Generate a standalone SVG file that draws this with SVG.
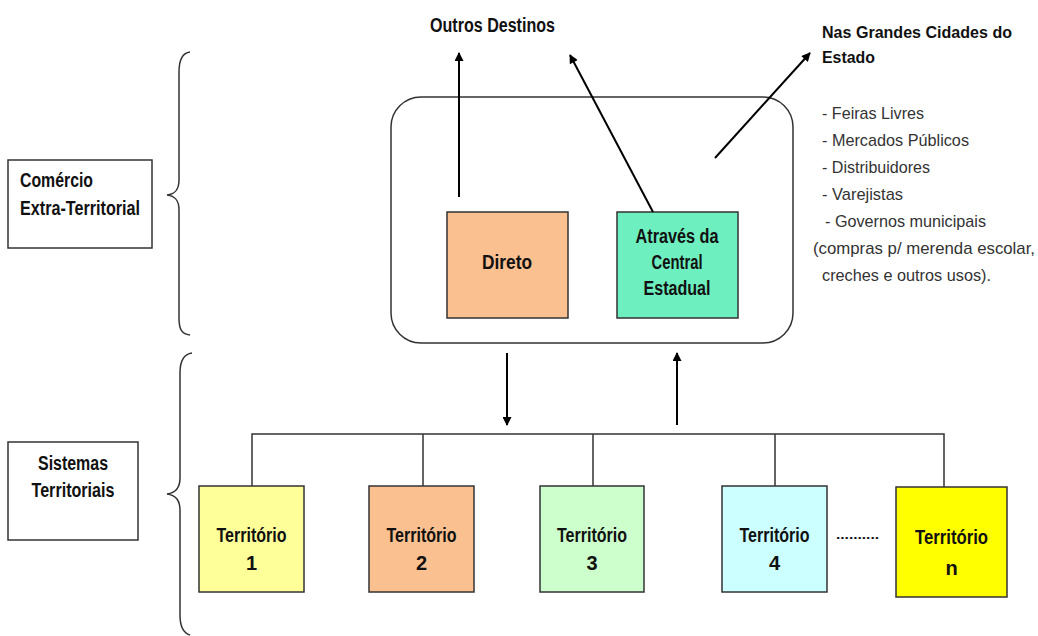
<svg xmlns="http://www.w3.org/2000/svg" width="1038" height="636" viewBox="0 0 1038 636">
<style>
.box{stroke:#333;stroke-width:1.5}
.lbl{font-family:"Liberation Sans",Arial,sans-serif;font-weight:bold;font-size:20px;fill:#111}
.hd{font-family:"Liberation Sans",Arial,sans-serif;font-weight:bold;font-size:16.5px;fill:#111}
.lst{font-family:"Liberation Sans",Arial,sans-serif;font-size:17px;fill:#333}
.dt{font-family:"Liberation Sans",Arial,sans-serif;font-weight:bold;font-size:12px;fill:#111}
.c{text-anchor:middle}
.ln{stroke:#333;stroke-width:1.5;fill:none}
.ar{stroke:#000;stroke-width:2;fill:none}
</style>
<defs>
<marker id="ah" viewBox="0 0 10 10" refX="9" refY="5" markerWidth="12" markerHeight="9" markerUnits="userSpaceOnUse" orient="auto">
<path d="M0,0 L10,5 L0,10 z" fill="#000"/>
</marker>
</defs>
<rect width="1038" height="636" fill="#fff"/>

<g id="comercio">
<rect class="box" x="8" y="160" width="144" height="88" fill="#fff"/>
<text class="lbl" x="20" y="187" textLength="73" lengthAdjust="spacingAndGlyphs">Comércio</text>
<text class="lbl" x="20" y="215" textLength="120" lengthAdjust="spacingAndGlyphs">Extra-Territorial</text>
</g>
<g id="sistemas">
<rect class="box" x="8" y="442" width="130" height="98" fill="#fff"/>
<text class="lbl c" x="73" y="470" textLength="70" lengthAdjust="spacingAndGlyphs">Sistemas</text>
<text class="lbl c" x="73" y="497" textLength="83" lengthAdjust="spacingAndGlyphs">Territoriais</text>
</g>
<g id="braces">
<path class="ln" d="M190,52 C182,53 179,60 179,72 L179,180 C179,190 175,194 167,195 C175,196 179,200 179,210 L179,318 C179,330 182,334 190,335"/>
<path class="ln" d="M192,353 C184,354 180,361 180,373 L180,478 C180,488 175,493 167,494 C175,495 180,500 180,510 L180,615 C180,627 183,633 190,635"/>
</g>
<g id="container">
<rect class="box" x="391" y="97" width="402" height="246" rx="30" fill="none"/>
</g>
<g id="direto">
<rect class="box" x="447" y="212" width="121" height="106" fill="#FAC090"/>
<text class="lbl c" x="507" y="269" textLength="50" lengthAdjust="spacingAndGlyphs">Direto</text>
</g>
<g id="central">
<rect class="box" x="617" y="212" width="121" height="106" fill="#6EEFC0"/>
<text class="lbl c" x="677" y="243" textLength="83" lengthAdjust="spacingAndGlyphs">Através da</text>
<text class="lbl c" x="677" y="269" textLength="51" lengthAdjust="spacingAndGlyphs">Central</text>
<text class="lbl c" x="677" y="295" textLength="67" lengthAdjust="spacingAndGlyphs">Estadual</text>
</g>
<g id="outros">
<text class="lbl" x="430" y="32" textLength="125" lengthAdjust="spacingAndGlyphs">Outros Destinos</text>
</g>
<g id="cidades">
<text class="hd" x="822" y="38" textLength="190" lengthAdjust="spacingAndGlyphs">Nas Grandes Cidades do</text>
<text class="hd" x="822" y="63" textLength="53" lengthAdjust="spacingAndGlyphs">Estado</text>
</g>
<g id="lista">
<text class="lst" x="822" y="119" textLength="102" lengthAdjust="spacingAndGlyphs">- Feiras Livres</text>
<text class="lst" x="822" y="146" textLength="147" lengthAdjust="spacingAndGlyphs">- Mercados Públicos</text>
<text class="lst" x="822" y="173" textLength="108" lengthAdjust="spacingAndGlyphs">- Distribuidores</text>
<text class="lst" x="822" y="200" textLength="81" lengthAdjust="spacingAndGlyphs">- Varejistas</text>
<text class="lst" x="825" y="227" textLength="161" lengthAdjust="spacingAndGlyphs">- Governos municipais</text>
<text class="lst" x="813" y="254" textLength="222" lengthAdjust="spacingAndGlyphs">(compras p/ merenda escolar,</text>
<text class="lst" x="822" y="281" textLength="169" lengthAdjust="spacingAndGlyphs">creches e outros usos).</text>
</g>
<g id="t1">
<rect class="box" x="199" y="486" width="105" height="106" fill="#FFFF99"/>
<text class="lbl c" x="251.5" y="542" textLength="70" lengthAdjust="spacingAndGlyphs">Território</text>
<text class="lbl c" x="251.5" y="570">1</text>
</g>
<g id="t2">
<rect class="box" x="369" y="486" width="105" height="106" fill="#FAC090"/>
<text class="lbl c" x="421.5" y="542" textLength="70" lengthAdjust="spacingAndGlyphs">Território</text>
<text class="lbl c" x="421.5" y="570">2</text>
</g>
<g id="t3">
<rect class="box" x="540" y="486" width="104" height="106" fill="#CCFFCC"/>
<text class="lbl c" x="592" y="542" textLength="70" lengthAdjust="spacingAndGlyphs">Território</text>
<text class="lbl c" x="592" y="570">3</text>
</g>
<g id="t4">
<rect class="box" x="722" y="486" width="105" height="106" fill="#CCFFFF"/>
<text class="lbl c" x="774.5" y="542" textLength="70" lengthAdjust="spacingAndGlyphs">Território</text>
<text class="lbl c" x="774.5" y="570">4</text>
</g>
<g id="tn">
<rect class="box" x="896" y="487" width="111" height="110" fill="#FFFF00"/>
<text class="lbl c" x="951.5" y="544" textLength="73" lengthAdjust="spacingAndGlyphs">Território</text>
<text class="lbl c" x="951.5" y="575">n</text>
</g>
<g id="dots">
<text class="dt" x="836" y="539" textLength="43" lengthAdjust="spacingAndGlyphs">..........</text>
</g>
<g id="connectors">
<line class="ar" x1="459" y1="197" x2="459" y2="53" marker-end="url(#ah)"/>
<line class="ar" x1="653" y1="212" x2="570" y2="55" marker-end="url(#ah)"/>
<line class="ar" x1="715" y1="158" x2="810" y2="53" stroke-width="3" marker-end="url(#ah)"/>
<line class="ar" x1="507" y1="353" x2="507" y2="425" marker-end="url(#ah)"/>
<line class="ar" x1="677" y1="425" x2="677" y2="353" marker-end="url(#ah)"/>
<path class="ln" d="M252,486 V434 H944 V487 M423,434 V486 M593,434 V486 M775,434 V486"/>
</g>
</svg>
